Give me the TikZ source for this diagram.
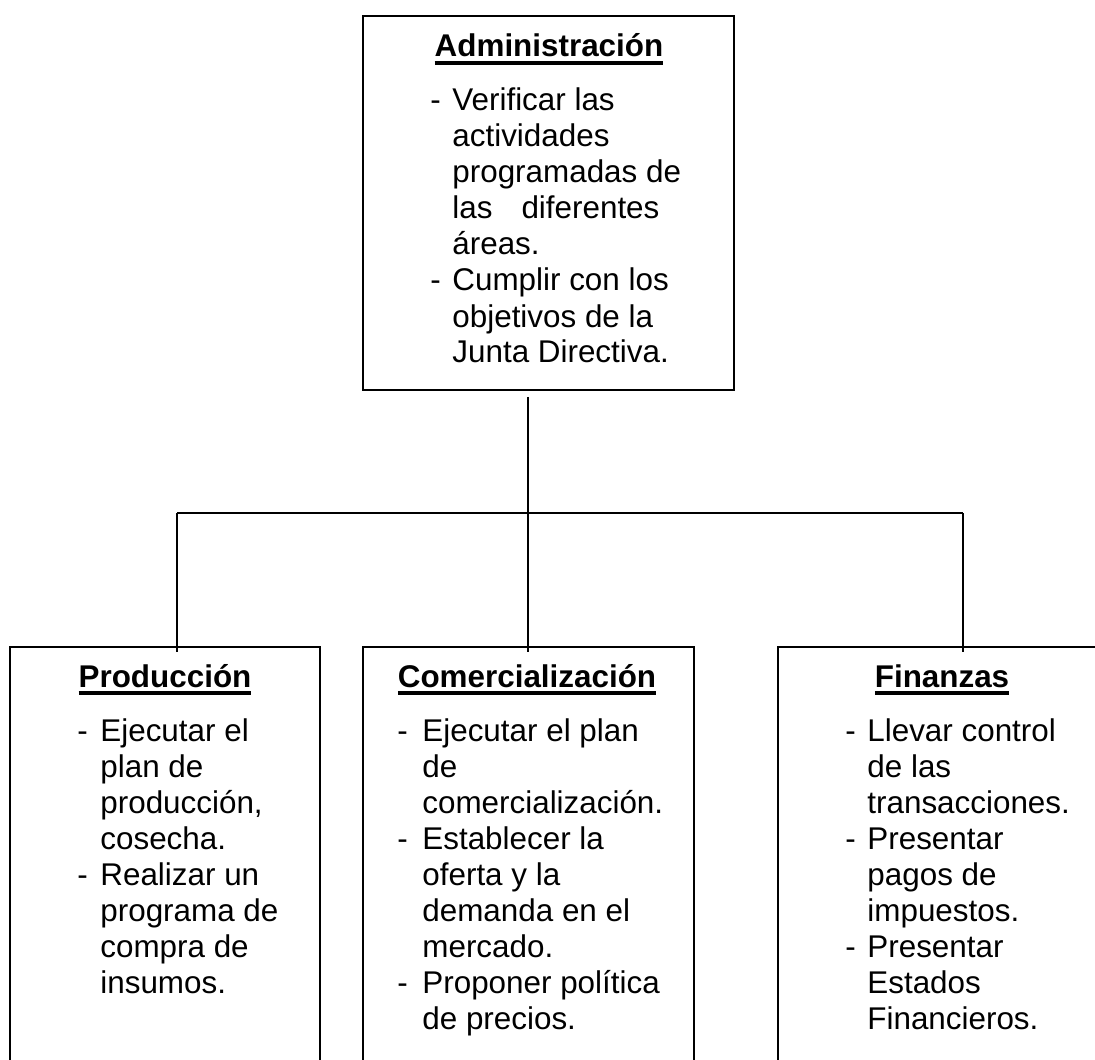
\documentclass[tikz,border=0pt]{standalone}
\usepackage{fontspec}
\setmainfont{Liberation Sans}
\usetikzlibrary{calc}

\newcommand{\titulo}[1]{\setbox0\hbox{\bfseries #1}\rlap{\vrule width\wd0 height -2pt depth 3.8pt}\box0}

\begin{document}
\begin{tikzpicture}[
    x=0.5pt, y=-0.5pt,
    box/.style={rectangle, draw, line width=0.8pt, inner sep=0pt},
    title/.style={anchor=base, inner sep=0pt, font=\fontsize{15.7pt}{18pt}\selectfont},
    body/.style={anchor=base west, inner sep=0pt, font=\fontsize{15.7pt}{18pt}\selectfont},
    link/.style={line width=0.8pt}
]

\clip (0,0) rectangle (1095,1059);

% Boxes
\node[box, minimum width=185.5pt, minimum height=187pt] (adm) at (548.5,203) {};
\node[box, minimum width=155pt, minimum height=226.5pt] (prod) at (165,873.5) {};
\node[box, minimum width=165.5pt, minimum height=226.5pt] (com) at (528.5,873.5) {};
\node[box, minimum width=166pt, minimum height=226.5pt] (fin) at (944,873.5) {};

% Titles
\node[title] (admtit) at (549,57) {\titulo{Administración}};
\node[title] (prodtit) at (165,687) {\titulo{Producción}};
\node[title] (comtit) at (527,687) {\titulo{Comercialización}};
\node[title] (fintit) at (942,687) {\titulo{Finanzas}};

% Texts
\node[body] (admtxt) at (430,111) {\begin{tabular}[t]{@{}p{11pt}@{}l@{}}
- & Verificar las\\
  & actividades\\
  & programadas de\\
  & las\hspace{14.5pt}diferentes\\
  & áreas.\\
- & Cumplir con los\\
  & objetivos de la\\
  & Junta Directiva.
\end{tabular}};

\node[body] (prodtxt) at (77,741) {\begin{tabular}[t]{@{}p{11.5pt}@{}l@{}}
- & Ejecutar el\\
  & plan de\\
  & producción,\\
  & cosecha.\\
- & Realizar un\\
  & programa de\\
  & compra de\\
  & insumos.
\end{tabular}};

\node[body] (comtxt) at (397,741) {\begin{tabular}[t]{@{}p{12.5pt}@{}l@{}}
- & Ejecutar el plan\\
  & de\\
  & comercialización.\\
- & Establecer la\\
  & oferta y la\\
  & demanda en el\\
  & mercado.\\
- & Proponer política\\
  & de precios.
\end{tabular}};

\node[body] (fintxt) at (845,741) {\begin{tabular}[t]{@{}p{11pt}@{}l@{}}
- & Llevar control\\
  & de las\\
  & transacciones.\\
- & Presentar\\
  & pagos de\\
  & impuestos.\\
- & Presentar\\
  & Estados\\
  & Financieros.
\end{tabular}};

% Connectors
\coordinate (hub) at (528,513);
\coordinate (busL) at (177,513);
\coordinate (busR) at (963,513);

\draw[link] ($(adm.south -| hub)+(0,6)$) -- ($(com.north -| hub)+(0,6)$);
\draw[link] (busL) -- (busR);
\draw[link] (busL) -- ($(prod.north -| busL)+(0,6)$);
\draw[link] (busR) -- ($(fin.north -| busR)+(0,6)$);

\end{tikzpicture}
\end{document}
